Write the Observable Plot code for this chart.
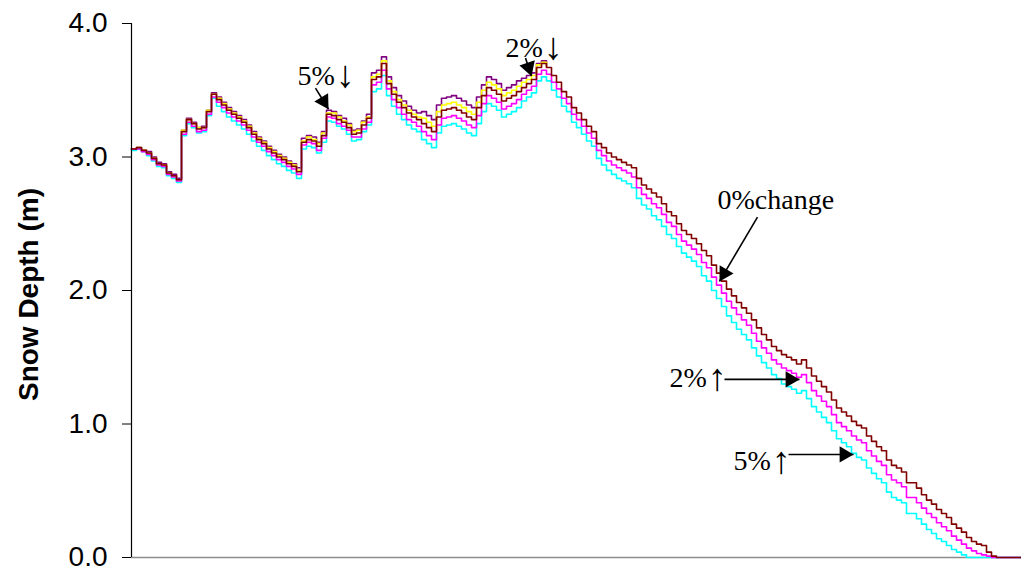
<!DOCTYPE html>
<html>
<head>
<meta charset="utf-8">
<script src="https://cdn.jsdelivr.net/npm/d3@7"></script>
<script src="https://cdn.jsdelivr.net/npm/@observablehq/plot@0.6"></script>
<style>
  html, body { margin: 0; padding: 0; background: #fff; }
  #chart svg { display: block; }
</style>
</head>
<body>
<div id="chart"></div>
<script>
// Modelled snow depth through the season for five precipitation scenarios.
// Values are in metres, one sample per time step (index along the x axis).

const yTicks = [0, 1, 2, 3, 4];

// 0% change (baseline)
const depth0 = [
  3.06,3.07,3.05,3.03,2.99,2.95,2.94,2.88,2.86,2.83,
  3.19,3.28,3.25,3.21,3.22,3.34,3.47,3.43,3.39,3.35,
  3.32,3.29,3.26,3.22,3.17,3.13,3.10,3.06,3.03,3.00,
  2.98,2.95,2.93,2.89,3.11,3.13,3.12,3.08,3.16,3.32,
  3.31,3.28,3.26,3.22,3.17,3.18,3.24,3.29,3.58,3.60,
  3.70,3.55,3.47,3.41,3.37,3.33,3.30,3.28,3.25,3.22,
  3.19,3.30,3.35,3.36,3.37,3.35,3.33,3.30,3.28,3.37,
  3.46,3.52,3.50,3.47,3.42,3.44,3.46,3.49,3.52,3.55,
  3.58,3.67,3.70,3.67,3.61,3.56,3.49,3.45,3.37,3.33,
  3.28,3.23,3.19,3.10,3.07,3.03,3.00,2.98,2.96,2.94,
  2.92,2.84,2.79,2.76,2.73,2.70,2.65,2.59,2.56,2.50,
  2.45,2.42,2.39,2.35,2.30,2.26,2.19,2.13,2.07,2.01,
  1.96,1.91,1.87,1.83,1.78,1.72,1.67,1.63,1.58,1.55,
  1.52,1.50,1.48,1.45,1.48,1.42,1.36,1.32,1.28,1.24,
  1.18,1.12,1.09,1.06,1.02,0.99,0.97,0.91,0.87,0.83,
  0.80,0.73,0.69,0.67,0.64,0.56,0.56,0.52,0.47,0.43,
  0.40,0.36,0.33,0.30,0.25,0.22,0.19,0.15,0.12,0.10,
  0.09,0.04,0.01,0,0,0,0,0,0
];

// 5% decrease (accumulation season; merges with the baseline once melt begins)
const depthDown5 = [
  3.06,3.07,3.05,3.04,3.00,2.96,2.95,2.89,2.87,2.84,
  3.20,3.29,3.26,3.22,3.23,3.35,3.48,3.45,3.41,3.37,
  3.34,3.31,3.28,3.24,3.19,3.15,3.12,3.08,3.05,3.02,
  3.00,2.97,2.95,2.92,3.14,3.16,3.15,3.11,3.19,3.35,
  3.34,3.31,3.29,3.25,3.20,3.21,3.27,3.32,3.63,3.65,
  3.75,3.60,3.52,3.46,3.42,3.38,3.35,3.33,3.34,3.31,
  3.28,3.39,3.44,3.45,3.46,3.44,3.42,3.39,3.37,3.45,
  3.54,3.60,3.58,3.55,3.50,3.52,3.54,3.57,3.59,3.61,
  3.63,3.70,3.72,3.68
];

// 2% decrease
const depthDown2 = [
  3.06,3.07,3.05,3.03,2.99,2.95,2.94,2.88,2.86,2.83,
  3.20,3.28,3.25,3.22,3.22,3.35,3.47,3.44,3.40,3.36,
  3.33,3.30,3.27,3.23,3.18,3.14,3.11,3.07,3.04,3.01,
  2.99,2.96,2.94,2.90,3.12,3.15,3.13,3.10,3.18,3.33,
  3.33,3.30,3.27,3.24,3.19,3.20,3.26,3.30,3.60,3.62,
  3.72,3.57,3.49,3.43,3.39,3.35,3.32,3.30,3.29,3.26,
  3.23,3.34,3.39,3.40,3.41,3.39,3.37,3.34,3.32,3.41,
  3.50,3.56,3.54,3.51,3.46,3.48,3.50,3.53,3.56,3.58,
  3.61,3.69,3.71,3.68
];

// 2% increase
const depthUp2 = [
  3.06,3.06,3.04,3.02,2.98,2.94,2.93,2.87,2.85,2.82,
  3.17,3.26,3.23,3.19,3.20,3.32,3.45,3.41,3.37,3.33,
  3.30,3.27,3.24,3.20,3.15,3.11,3.08,3.04,3.01,2.98,
  2.96,2.93,2.91,2.87,3.09,3.11,3.10,3.05,3.14,3.30,
  3.29,3.25,3.23,3.20,3.15,3.15,3.21,3.26,3.54,3.56,
  3.65,3.51,3.43,3.37,3.32,3.28,3.26,3.23,3.19,3.16,
  3.13,3.24,3.29,3.30,3.31,3.29,3.27,3.24,3.22,3.31,
  3.40,3.46,3.44,3.41,3.36,3.38,3.40,3.43,3.47,3.50,
  3.53,3.62,3.65,3.62,3.56,3.51,3.44,3.40,3.32,3.28,
  3.23,3.18,3.14,3.05,3.01,2.97,2.94,2.92,2.90,2.88,
  2.85,2.77,2.72,2.69,2.65,2.62,2.57,2.51,2.48,2.42,
  2.37,2.34,2.31,2.27,2.21,2.17,2.10,2.04,1.98,1.92,
  1.87,1.82,1.78,1.74,1.68,1.62,1.57,1.53,1.48,1.45,
  1.42,1.40,1.38,1.35,1.37,1.31,1.25,1.21,1.17,1.13,
  1.07,1.01,0.98,0.95,0.91,0.88,0.86,0.80,0.76,0.72,
  0.69,0.62,0.58,0.56,0.53,0.45,0.45,0.41,0.37,0.33,
  0.30,0.26,0.23,0.20,0.16,0.13,0.10,0.07,0.05,0.03,
  0.02,0.01,0,0,0,0,0,0,0
];

// 5% increase
const depthUp5 = [
  3.05,3.06,3.04,3.01,2.97,2.93,2.92,2.86,2.84,2.81,
  3.16,3.25,3.22,3.18,3.19,3.31,3.44,3.38,3.34,3.30,
  3.27,3.24,3.21,3.17,3.12,3.08,3.05,3.01,2.98,2.95,
  2.93,2.90,2.88,2.84,3.06,3.08,3.07,3.03,3.11,3.27,
  3.26,3.23,3.21,3.17,3.12,3.13,3.19,3.24,3.49,3.51,
  3.61,3.46,3.38,3.32,3.28,3.24,3.21,3.19,3.13,3.10,
  3.07,3.18,3.23,3.24,3.25,3.23,3.21,3.18,3.16,3.25,
  3.34,3.40,3.38,3.35,3.30,3.32,3.34,3.37,3.42,3.45,
  3.48,3.57,3.60,3.57,3.50,3.45,3.38,3.34,3.26,3.22,
  3.17,3.12,3.08,2.99,2.94,2.90,2.87,2.84,2.82,2.80,
  2.77,2.69,2.64,2.61,2.56,2.53,2.48,2.42,2.39,2.33,
  2.28,2.25,2.22,2.18,2.11,2.07,2.00,1.94,1.88,1.81,
  1.76,1.71,1.67,1.63,1.57,1.51,1.46,1.42,1.37,1.34,
  1.30,1.28,1.26,1.23,1.25,1.19,1.13,1.09,1.05,1.01,
  0.95,0.89,0.86,0.83,0.78,0.75,0.73,0.67,0.63,0.59,
  0.56,0.49,0.45,0.43,0.41,0.33,0.33,0.29,0.25,0.21,
  0.18,0.14,0.12,0.09,0.06,0.04,0.02,0,0,0,
  0,0,0,0,0,0,0,0,0
];

const seriesNames = ["5%↓", "2%↓", "5%↑", "2%↑", "0% change"];
const seriesValues = [depthDown5, depthDown2, depthUp5, depthUp2, depth0];
const seriesColors = ["#800080", "#ffff00", "#00ffff", "#ff00ff", "#800000"];

// Annotation labels (number part + direction arrow) and the point each arrow leads to.
const noteText  = ["5%", "2%", "0%change", "2%", "5%"];
const noteArrow = ["↓", "↓", "", "↑", "↑"];
const noteX     = [33.2, 74.8, 117.2, 107.6, 120.4];
const noteY     = [3.606, 3.816, 2.676, 1.342, 0.720];
const arrowX1   = [36.8, 78.8, 125.2, 118.6, 131.4];
const arrowY1   = [3.516, 3.741, 2.549, 1.334, 0.772];
const arrowX2   = [39.4, 80.0, 117.6, 133.6, 144.4];
const arrowY2   = [3.358, 3.606, 2.069, 1.334, 0.772];

// Layout
const W = 1021, H = 571;
const M = {top: 23, right: 0, bottom: 14, left: 131};
const xMax = depth0.length - 1;
const pxPerX = (W - M.left - M.right) / xMax;
const pxPerY = (H - M.top - M.bottom) / 4;
const sansFont = "Liberation Sans, Arial, sans-serif";
const serifFont = "Liberation Serif, Times New Roman, serif";

const rows = seriesValues.flatMap((vals, s) =>
  vals.map((v, i) => ({t: i, depth: v, series: seriesNames[s]}))
);

const notes = noteText.map((text, i) => {
  const dxp = (arrowX2[i] - arrowX1[i]) * pxPerX;
  const dyp = -(arrowY2[i] - arrowY1[i]) * pxPerY;
  const len = Math.hypot(dxp, dyp);
  return {
    text, arrow: noteArrow[i], tx: noteX[i], ty: noteY[i],
    x1: arrowX1[i], y1: arrowY1[i], x2: arrowX2[i], y2: arrowY2[i],
    angle: Math.atan2(dxp, -dyp) * 180 / Math.PI,
    ux: dxp / len, uy: dyp / len
  };
});

const headR = 6;                       // triangle head size
const headBack = 0.66 * headR * 2.33;  // centroid-to-tip distance

const marks = [
  Plot.ruleY([0], {stroke: "#8c8c8c", strokeWidth: 1.5}),
  ...seriesNames.map((name, s) =>
    Plot.line(rows.filter(d => d.series === name), {
      x: "t", y: "depth", stroke: seriesColors[s], strokeWidth: 1.6, curve: "step-after"
    })
  ),
  Plot.ruleX([0], {stroke: "#000", strokeWidth: 1.2}),
  Plot.axisY({
    ticks: yTicks, tickFormat: d3.format(".1f"), tickSize: 9, tickPadding: 15,
    label: null, fontSize: 28, fontFamily: sansFont
  }),
  Plot.text(["Snow Depth (m)"], {
    frameAnchor: "left", textAnchor: "middle", rotate: -90, dx: -102, dy: 4,
    fontWeight: "bold", fontSize: 28, fontFamily: sansFont, fill: "#000"
  }),
  Plot.text(notes, {
    x: "tx", y: "ty", text: "text", textAnchor: "start",
    fontSize: 28, fontFamily: serifFont, fill: "#000"
  }),
  Plot.text(notes.filter(n => n.arrow), {
    x: "tx", y: "ty", text: "arrow", textAnchor: "start", dx: 38, dy: -1,
    fontSize: 38, fontFamily: serifFont, fill: "#000"
  }),
  Plot.link(notes, {x1: "x1", y1: "y1", x2: "x2", y2: "y2", stroke: "#000", strokeWidth: 1.6}),
  ...notes.map(n =>
    Plot.dot([n], {
      x: "x2", y: "y2", symbol: "triangle", r: headR, fill: "#000", stroke: "none",
      rotate: n.angle, dx: -n.ux * headBack, dy: -n.uy * headBack
    })
  )
];

const chart = Plot.plot({
  width: W, height: H,
  marginTop: M.top, marginRight: M.right, marginBottom: M.bottom, marginLeft: M.left,
  x: {domain: [0, xMax], axis: null},
  y: {domain: [0, 4], axis: null},
  style: {background: "#fff", color: "#000", overflow: "visible"},
  marks
});

document.getElementById("chart").append(chart);
</script>
</body>
</html>
